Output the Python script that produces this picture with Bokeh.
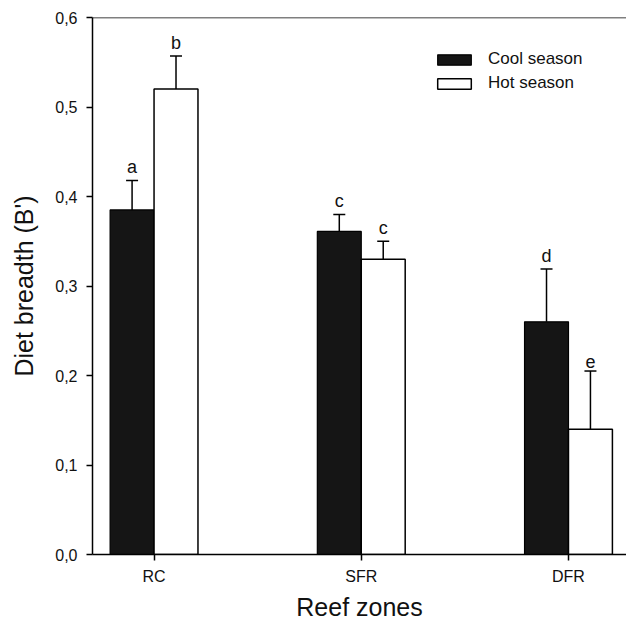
from bokeh.plotting import figure
from bokeh.models import (ColumnDataSource, Range1d, FixedTicker, Legend, LegendItem,
                          Whisker, TeeHead, Span)
from bokeh.core.properties import value
from bokeh.embed import file_html
from bokeh.resources import INLINE

zones = ["RC", "SFR", "DFR"]
cool_mean = [0.385, 0.361, 0.260]
cool_err_top = [0.418, 0.380, 0.319]
hot_mean = [0.520, 0.330, 0.140]
hot_err_top = [0.557, 0.350, 0.205]
cool_letters = ["a", "c", "d"]
hot_letters = ["b", "c", "e"]
y_ticks = [0.0, 0.1, 0.2, 0.3, 0.4, 0.5, 0.6]
y_tick_labels = ["0,0", "0,1", "0,2", "0,3", "0,4", "0,5", "0,6"]

FONT = "Liberation Sans"
BW = 0.212
xpos = list(range(len(zones)))

p = figure(width=626, height=623, output_backend="svg", toolbar_location=None,
           x_range=Range1d(-0.297, 2.28), y_range=Range1d(0, 0.6),
           min_border_left=92, min_border_right=0, min_border_top=17, min_border_bottom=69)
p.grid.visible = False
p.outline_line_color = None
p.background_fill_color = "white"

cool_src = ColumnDataSource(dict(x=[x - BW / 2 for x in xpos], top=cool_mean,
                                 up=cool_err_top, lab=cool_letters))
hot_src = ColumnDataSource(dict(x=[x + BW / 2 for x in xpos], top=hot_mean,
                                up=hot_err_top, lab=hot_letters))

for src in (cool_src, hot_src):
    w = Whisker(source=src, base="x", lower="top", upper="up", line_color="black",
                line_width=1.5, lower_head=None,
                upper_head=TeeHead(size=12, line_color="black", line_width=1.5))
    p.add_layout(w)

rc = p.vbar(x="x", top="top", width=BW, source=cool_src, fill_color="#151515",
            line_color="black", line_width=1.2)
rh = p.vbar(x="x", top="top", width=BW, source=hot_src, fill_color="white",
            line_color="black", line_width=1.5)

for src in (cool_src, hot_src):
    p.text(x="x", y="up", text="lab", source=src, text_align="center",
           text_baseline="bottom", y_offset=-3, text_font=value(FONT),
           text_font_size="18px", text_color="#111111")

p.add_layout(Span(location=0.6, dimension="width", line_color="black", line_width=1.5))

legend = Legend(items=[LegendItem(label="Cool season", renderers=[rc]),
                       LegendItem(label="Hot season", renderers=[rh])],
                location=(341, 461), border_line_color=None, background_fill_alpha=0,
                padding=0, margin=0, spacing=4, glyph_width=42, glyph_height=13,
                label_height=13, label_standoff=13, label_text_font=FONT,
                label_text_font_size="17px", label_text_color="#111111")
p.add_layout(legend)

# axes
p.yaxis.ticker = FixedTicker(ticks=y_ticks)
p.yaxis.major_label_overrides = {t: l for t, l in zip(y_ticks, y_tick_labels)}
p.xaxis.ticker = FixedTicker(ticks=xpos)
p.xaxis.major_label_overrides = {i: z for i, z in enumerate(zones)}
for ax in (p.xaxis, p.yaxis):
    ax.axis_line_width = 1.5
    ax.axis_line_color = "black"
    ax.major_tick_line_width = 1.5
    ax.major_tick_line_color = "black"
    ax.major_tick_in = 0
    ax.major_tick_out = 6
    ax.minor_tick_line_color = None
    ax.major_label_text_font = FONT
    ax.major_label_text_font_size = "16px"
    ax.major_label_text_color = "#111111"
    ax.axis_label_text_font = FONT
    ax.axis_label_text_font_size = "25px"
    ax.axis_label_text_font_style = "normal"
    ax.axis_label_text_color = "#111111"
p.yaxis.major_label_standoff = 9
p.xaxis.major_label_standoff = 7
p.yaxis.axis_label = "Diet breadth (B')"
p.xaxis.axis_label = "Reef zones"
p.yaxis.axis_label_standoff = 14
p.xaxis.axis_label_standoff = 5

open("out.html", "w").write(file_html(p, INLINE))
